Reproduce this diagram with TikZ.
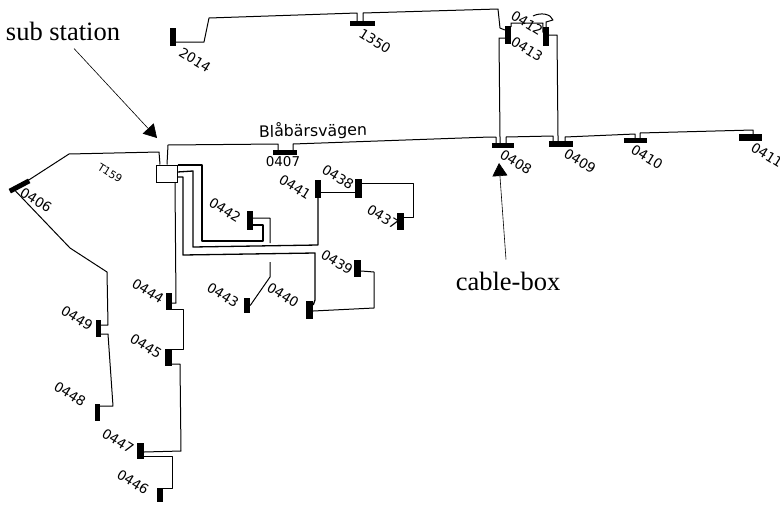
\documentclass[tikz,border=0pt]{standalone}
\usepackage{fontspec}
\setmainfont{Liberation Serif}
\newfontfamily\drawnfont{DejaVu Sans}
\usepackage{tikz}
\usetikzlibrary{arrows.meta}

\begin{document}
\begin{tikzpicture}[
  x=1pt, y=-1pt,
  barh/.style={rectangle, fill=black, inner sep=0pt, minimum width=23pt, minimum height=5pt},
  barv/.style={rectangle, fill=black, inner sep=0pt, minimum width=6pt, minimum height=17pt},
  num/.style={inner sep=0pt, rotate=-32, font=\drawnfont\fontsize{13.5}{14}\selectfont},
  note/.style={inner sep=0pt, font=\fontsize{26.5}{27}\selectfont},
  wire/.style={line width=1pt, line join=round},
  heavy/.style={line width=1.3pt, line join=round},
  pointer/.style={-{Triangle[length=13pt, width=15pt]}, line width=0.6pt}
]
\useasboundingbox (0,0) rectangle (780,504);

\node[note] (lblsub) at (63,31) {sub station};
\node[note] (lblcable) at (508,281) {cable-box};
\node[inner sep=0pt, rotate=1, font=\drawnfont\fontsize{15.8}{16}\selectfont] (lblroad) at (313,131) {Blåbärsvägen};

\node[draw, line width=1pt, fill=white, inner sep=0pt, minimum width=21pt, minimum height=17pt] (sub) at (166.5,173.5) {};
\coordinate (tipsub) at (157,138);
\coordinate (tipcable) at (499,163);

\node[barv, minimum height=18pt] (b2014) at (173,37) {};
\node[barh, minimum width=25pt] (b1350) at (362.5,23.5) {};
\node[barv, minimum height=18pt] (b0413) at (508,35) {};
\node[barv, minimum height=19pt] (b0412) at (546,36.5) {};
\node[barh, minimum width=22pt] (b0408) at (503,145.5) {};
\node[barh, minimum width=24pt, minimum height=6pt] (b0409) at (561,144) {};
\node[barh] (b0410) at (635.5,140.5) {};
\node[barh, minimum height=7pt] (b0411) at (750.5,137.5) {};
\node[barh, minimum width=24pt] (b0407) at (285,152.5) {};
\node[barh, minimum width=22pt, rotate=28] (b0406) at (19.5,186) {};
\node[barv, minimum height=19pt] (b0442) at (250,220.5) {};
\node[barv, minimum height=15pt] (b0443) at (247,305.5) {};
\node[barv, minimum height=18pt] (b0441) at (318,189) {};
\node[barv, minimum width=7pt, minimum height=19pt] (b0438) at (358.5,188.5) {};
\node[barv, minimum width=7pt] (b0437) at (400.5,221.5) {};
\node[barv, minimum width=7pt] (b0439) at (357.5,268.5) {};
\node[barv, minimum width=7pt, minimum height=18pt] (b0440) at (309.5,310) {};
\node[barv] (b0444) at (169,301.5) {};
\node[barv, minimum width=7pt] (b0445) at (168.5,357.5) {};
\node[barv, minimum width=7pt, minimum height=16pt] (b0447) at (140.5,451) {};
\node[barv, minimum height=14pt] (b0446) at (160,495) {};
\node[barv, minimum width=5pt] (b0449) at (98.5,328.5) {};
\node[barv, minimum width=5pt] (b0448) at (97.5,412.5) {};

\node[num] (n2014) at (195,60) {2014};
\node[num] (n1350) at (375,41) {1350};
\node[num] (n0412) at (527,23) {0412};
\node[num] (n0413) at (527,49) {0413};
\node[num] (n0408) at (516,162) {0408};
\node[num] (n0409) at (580,161) {0409};
\node[num] (n0410) at (647,157) {0410};
\node[num] (n0411) at (767,155) {0411};
\node[num, font=\drawnfont\fontsize{10.5}{11}\selectfont] (nt159) at (110,173) {T159};
\node[num] (n0406) at (36,200) {0406};
\node[num, rotate=32] (n0407) at (283,162) {0407};
\node[num] (n0441) at (295,187) {0441};
\node[num] (n0438) at (338,177) {0438};
\node[num] (n0437) at (383,217) {0437};
\node[num] (n0442) at (225,210) {0442};
\node[num] (n0443) at (223,295) {0443};
\node[num] (n0440) at (283,295) {0440};
\node[num] (n0439) at (337,262) {0439};
\node[num] (n0444) at (148,291) {0444};
\node[num] (n0449) at (77,318) {0449};
\node[num] (n0445) at (146,346) {0445};
\node[num] (n0448) at (70,394) {0448};
\node[num] (n0447) at (118,441) {0447};
\node[num] (n0446) at (133,482) {0446};

\draw[wire] ([yshift=-5pt]b2014.east) -- (204,42) -- (209,18) -- (357,13) -- ([xshift=-5.5pt]b1350.north);
\draw[wire] ([xshift=0.5pt]b1350.north) -- (363,13) -- (498,9) -- (500,28) -- ([yshift=5pt]b0413.west);
\draw[wire] ([yshift=-3pt]b0413.west) -- (499,38) -- (500,137) -- ([xshift=-3pt]b0408.north);
\draw[wire] ([yshift=8pt]b0413.east) -- (511,23) -- (543,23) -- ([yshift=4pt]b0412.west);
\draw[wire] ([yshift=1.5pt]b0412.east) -- (557,35) -- (558,136) -- ([xshift=-3pt]b0409.north);
\draw[wire] (b0412.north) -- (546,22) -- (553,20) .. controls (551,14) and (541,12) .. (533,16);
\draw[wire] ([xshift=8pt]b0407.north) -- (293,144) -- (490,137) -- (496,137) -- ([xshift=-7pt]b0408.north);
\draw[wire] ([xshift=3pt]b0408.north) -- (506,137) -- (553,136) -- ([xshift=-8pt]b0409.north);
\draw[wire] ([xshift=4pt]b0409.north) -- (565,137) -- (635,134) -- ([xshift=-0.5pt]b0410.north);
\draw[wire] ([xshift=4.5pt]b0410.north) -- (640,133) -- (753,130) -- ([xshift=2.5pt]b0411.north);
\draw[wire] ([xshift=0.5pt]sub.north) -- (168,145) -- (278,144) -- ([xshift=-7pt]b0407.north);
\draw[wire] ([xshift=-6.5pt]sub.north) -- (159,152) -- (69,154) -- (b0406.center);
\draw[wire] ([shift={(-4pt,-5pt)}]b0406.center) -- (70,248) -- (107,272) -- (108,325) -- ([yshift=3.5pt]b0449.east);
\draw[wire] ([yshift=-5.5pt]b0449.east) -- (108,334) -- (113,406) -- ([yshift=6.5pt]b0448.east);
\draw[heavy] ([yshift=8.5pt]sub.east) -- (202,165) -- (202,241) -- (263,241) -- (263,225) -- ([yshift=-4.5pt]b0442.east);
\draw[wire] ([yshift=2.5pt]b0442.east) -- (270,218) -- (270,243) (270,262) -- (270,277) -- (b0443.east);
\draw[heavy] ([yshift=1.5pt]sub.east) -- (193,171) -- (193,247) -- (318,245) -- (b0441.south);
\draw[wire] ([yshift=-3pt]b0441.east) -- ([yshift=-3.5pt]b0438.west);
\draw[wire] ([yshift=5.5pt]b0438.east) -- (413,183) -- (413,217) -- ([yshift=4.5pt]b0437.east);
\draw[heavy] ([yshift=-3.5pt]sub.east) -- (183,177) -- (183,255) -- (315,253) -- (315,300) -- ([yshift=5pt]b0440.east);
\draw[wire] ([yshift=-1pt]b0440.east) -- (374,308) -- (374,272) -- ([yshift=-2.5pt]b0439.east);
\draw[wire] ([xshift=8.5pt]sub.south) -- (176,303) -- ([yshift=-1.5pt]b0444.east);
\draw[wire] ([yshift=-7.5pt]b0444.east) -- (183,309) -- (183,349) -- ([yshift=8.5pt]b0445.east);
\draw[wire] ([yshift=-6.5pt]b0445.east) -- (180,364) -- (181,451) -- ([yshift=-1pt]b0447.east);
\draw[wire] ([yshift=-5pt]b0447.east) -- (172,456) -- (172,488) -- ([yshift=7pt]b0446.east);

\draw[pointer] ([shift={(11pt,-8pt)}]lblsub.south) -- (tipsub);
\draw[pointer] ([xshift=-2pt,yshift=12pt]lblcable.north) -- (tipcable);
\end{tikzpicture}
\end{document}
